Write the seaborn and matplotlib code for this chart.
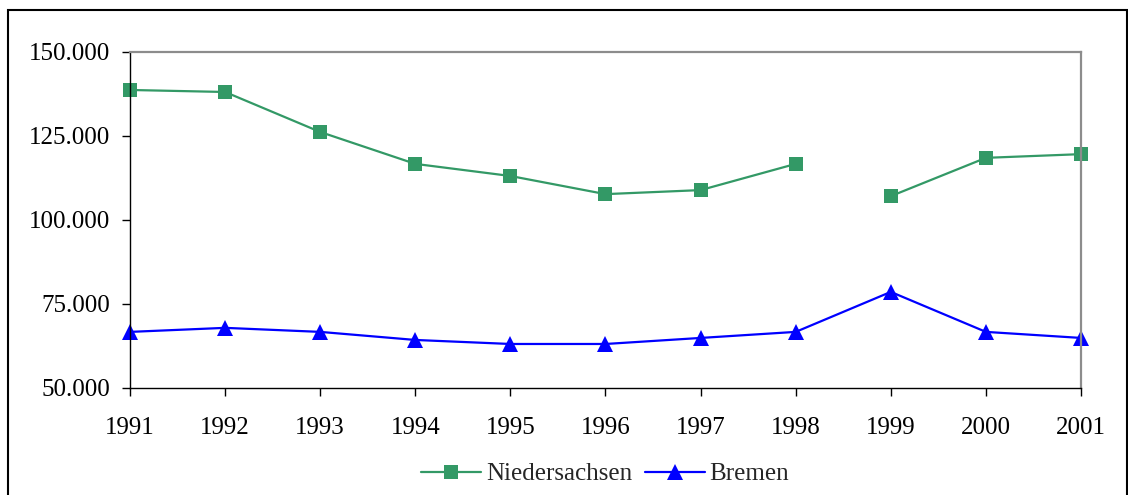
import matplotlib
matplotlib.use("Agg")
import matplotlib.pyplot as plt
from matplotlib.lines import Line2D
from matplotlib.patches import Rectangle
from matplotlib.ticker import FuncFormatter
import seaborn as sns
import pandas as pd
import numpy as np

years = [1991, 1992, 1993, 1994, 1995, 1996, 1997, 1998, 1999, 2000, 2001]
niedersachsen = [138700, 138100, 126200, 116700, 113100, 107700, 108900, 116700, 107100, 118500, 119600]
nds_segment = [0, 0, 0, 0, 0, 0, 0, 0, 1, 1, 1]
bremen = [66700, 67900, 66700, 64300, 63100, 63100, 64900, 66700, 78600, 66700, 64900]

sns.set_style("white")
plt.rcParams['font.family'] = ['Liberation Serif', 'DejaVu Serif']

GREEN = "#339966"
BLUE = "#0000FF"
FS = 18

fig = plt.figure(figsize=(11.28, 4.95), dpi=100)
ax = fig.add_axes([130/1128, 1-388/495, (1081-130)/1128, (388-52)/495])

df_n = pd.DataFrame({"year": years, "value": niedersachsen, "seg": nds_segment})
df_b = pd.DataFrame({"year": years, "value": bremen, "seg": 0})

sns.lineplot(data=df_n, x="year", y="value", units="seg", estimator=None, ax=ax,
             color=GREEN, marker="s", markersize=10.5, markeredgewidth=0,
             linewidth=1.6, clip_on=False, legend=False)
sns.lineplot(data=df_b, x="year", y="value", units="seg", estimator=None, ax=ax,
             color=BLUE, marker="^", markersize=12, markeredgewidth=0,
             linewidth=1.6, clip_on=False, legend=False)

ax.set_xlim(1991, 2001)
ax.set_ylim(50000, 150000)
ax.set_xticks(years)
ax.set_xticklabels([str(y) for y in years])
ax.set_yticks([50000, 75000, 100000, 125000, 150000])
ax.yaxis.set_major_formatter(FuncFormatter(lambda v, p: f"{int(v):,}".replace(",", ".")))
ax.set_xlabel("")
ax.set_ylabel("")

for s in ["left", "bottom"]:
    ax.spines[s].set_color("black")
    ax.spines[s].set_linewidth(1.0)
for s in ["top", "right"]:
    ax.spines[s].set_color("#8c8c8c")
    ax.spines[s].set_linewidth(1.6)

ax.tick_params(axis="both", which="major", direction="out", length=6, width=1,
               color="black", labelsize=FS, labelcolor="black",
               left=True, bottom=True, top=False, right=False)
ax.tick_params(axis="x", pad=15)
ax.tick_params(axis="y", pad=8)

handles = [
    Line2D([], [], color=GREEN, marker="s", markersize=10.5, markeredgewidth=0, linewidth=1.6),
    Line2D([], [], color=BLUE, marker="^", markersize=12, markeredgewidth=0, linewidth=1.6),
]
fig.legend(handles, ["Niedersachsen", "Bremen"], loc="center",
           bbox_to_anchor=(605/1128, 1-474/495), ncol=2, frameon=False,
           fontsize=FS, handlelength=2.4, columnspacing=0.5, handletextpad=0.2)

fig.patches.append(Rectangle((8/1128, -0.05), (1127-8)/1128, 1.05 - 10/495,
                             transform=fig.transFigure, fill=False,
                             edgecolor="black", linewidth=1.5))

fig.savefig("out.png", dpi=100, facecolor="white")
